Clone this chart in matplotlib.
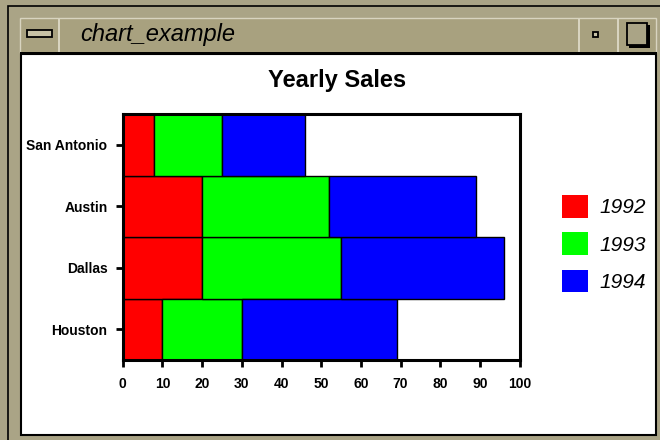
import matplotlib
matplotlib.use('Agg')
import matplotlib.pyplot as plt
from matplotlib.patches import Rectangle, Patch

cities = ['Houston', 'Dallas', 'Austin', 'San Antonio']
years = ['1992', '1993', '1994']
sales_1992 = [10, 20, 20, 8]
sales_1993 = [20, 35, 32, 17]
sales_1994 = [39, 41, 37, 21]
x_ticks = [0, 10, 20, 30, 40, 50, 60, 70, 80, 90, 100]

colors = ['#ff0000', '#00ff00', '#0000ff']
font = ['Liberation Sans', 'DejaVu Sans']

W, H = 660, 440
fig = plt.figure(figsize=(6.6, 4.4), dpi=100)
fig.patch.set_facecolor('#aaa486')


def box(x0, y0, x1, y1, **kw):
    # rectangle in pixel coords (origin top-left), drawn under the axes
    r = Rectangle((x0 / W, 1 - y1 / H), (x1 - x0) / W, (y1 - y0) / H,
                  transform=fig.transFigure, zorder=-5, **kw)
    fig.patches.append(r)


# window frame
box(8, 6, 662, 442, facecolor='#aaa486', edgecolor='black', lw=1.2)
box(20, 18, 656, 53, facecolor='#a8a17f', edgecolor='#d8d4c0', lw=1)
box(20, 52, 657, 55, facecolor='black', edgecolor='none')
box(21, 54, 656, 435, facecolor='white', edgecolor='black', lw=1.5)
for xd in [58, 578, 617]:
    box(xd, 19, xd + 2, 52, facecolor='#d8d4c0', edgecolor='none')
box(27, 30, 52, 37, facecolor='#c8c2a6', edgecolor='black', lw=1.3)
box(593, 32, 598, 37, facecolor='#c8c2a6', edgecolor='black', lw=1.3)
box(629, 25, 650, 48, facecolor='black', edgecolor='none')
box(627, 23, 647, 45, facecolor='#aaa486', edgecolor='black', lw=1.3)
fig.text(80 / W, 1 - 34 / H, 'chart_example', fontsize=17, style='italic',
         family=font, va='center', ha='left')

ax = fig.add_axes([122.7 / W, 1 - 360 / H, 397 / W, 246 / H])
pos = range(len(cities))
left = [0] * len(cities)
for vals, c, yr in zip([sales_1992, sales_1993, sales_1994], colors, years):
    ax.barh(pos, vals, left=left, height=1.0, color=c, edgecolor='black',
            linewidth=1.0, label=yr)
    left = [a + b for a, b in zip(left, vals)]

ax.set_xlim(0, 100)
ax.set_ylim(-0.5, 3.5)
ax.set_xticks(x_ticks)
ax.set_yticks(list(pos))
ax.set_yticklabels(cities)
for s in ax.spines.values():
    s.set_linewidth(2.2)
ax.tick_params(axis='both', length=5, width=2, direction='out')
ax.tick_params(axis='x', pad=7)
ax.tick_params(axis='y', pad=6)
for lab in ax.get_xticklabels() + ax.get_yticklabels():
    lab.set_family(font)
    lab.set_fontweight('bold')
    lab.set_fontsize(10)

fig.text(337 / W, 1 - 80 / H, 'Yearly Sales', fontsize=17, fontweight='bold',
         family=font, ha='center', va='center')

handles = [Patch(facecolor=c, edgecolor='none') for c in colors]
leg = fig.legend(handles, years, loc='upper left',
                 bbox_to_anchor=(562 / W, 1 - 195 / H), frameon=False,
                 handlelength=1.25, handleheight=1.3, handletextpad=0.55,
                 labelspacing=0.7, borderpad=0, borderaxespad=0,
                 prop={'family': font, 'style': 'italic', 'size': 15})

fig.savefig('out.png', dpi=100, facecolor=fig.get_facecolor())
